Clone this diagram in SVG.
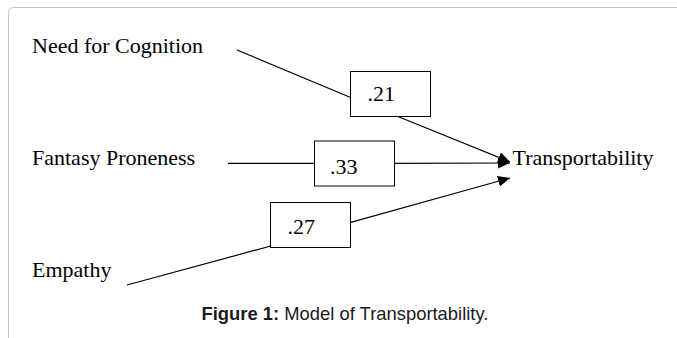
<svg xmlns="http://www.w3.org/2000/svg" width="677" height="338" viewBox="0 0 677 338">
<style>
.lbl{font-family:"Liberation Serif","Times New Roman",serif;font-size:22px;fill:#000}
.box{fill:#fff;stroke:#000;stroke-width:1}
.ln{stroke:#000;stroke-width:1.2;fill:none}
.cap{font-family:"Liberation Sans",Arial,sans-serif;font-size:18.4px;fill:#1a1a1a}
</style>
<defs>
<marker id="ah" markerUnits="userSpaceOnUse" markerWidth="13" markerHeight="12" refX="12" refY="5.5" orient="auto">
<path d="M0,0 L12,5.5 L0,11 z" fill="#000"/>
</marker>
</defs>
<rect width="677" height="338" fill="#fff"/>
<path d="M8.5 338 V12.5 Q8.5 7.5 13.5 7.5 H677" fill="none" stroke="#c4c4c4" stroke-width="1"/>
<g id="connectors">
<line class="ln" x1="237" y1="50" x2="350" y2="97.3"/>
<line class="ln" x1="396.7" y1="116" x2="510" y2="162" marker-end="url(#ah)"/>
<line class="ln" x1="228" y1="163.3" x2="314" y2="163.3"/>
<line class="ln" x1="394" y1="163.3" x2="510" y2="163" marker-end="url(#ah)"/>
<line class="ln" x1="127" y1="285" x2="270.7" y2="246"/>
<line class="ln" x1="350.7" y1="222.3" x2="510" y2="178" marker-end="url(#ah)"/>
</g>
<g id="need-for-cognition"><text class="lbl" x="32" y="53">Need for Cognition</text></g>
<g id="fantasy-proneness"><text class="lbl" x="32" y="165">Fantasy Proneness</text></g>
<g id="empathy"><text class="lbl" x="32" y="277">Empathy</text></g>
<g id="transportability"><text class="lbl" x="512.5" y="165">Transportability</text></g>
<g id="w21"><rect class="box" x="350.5" y="71.5" width="80" height="45"/><text class="lbl" x="367.5" y="101">.21</text></g>
<g id="w33"><rect class="box" x="314.5" y="141" width="80" height="45"/><text class="lbl" x="330" y="174">.33</text></g>
<g id="w27"><rect class="box" x="270.5" y="202.5" width="80" height="45"/><text class="lbl" x="287.5" y="234">.27</text></g>
<g id="caption"><text class="cap" x="201.5" y="320"><tspan font-weight="bold">Figure 1:</tspan> Model of Transportability.</text></g>
</svg>
